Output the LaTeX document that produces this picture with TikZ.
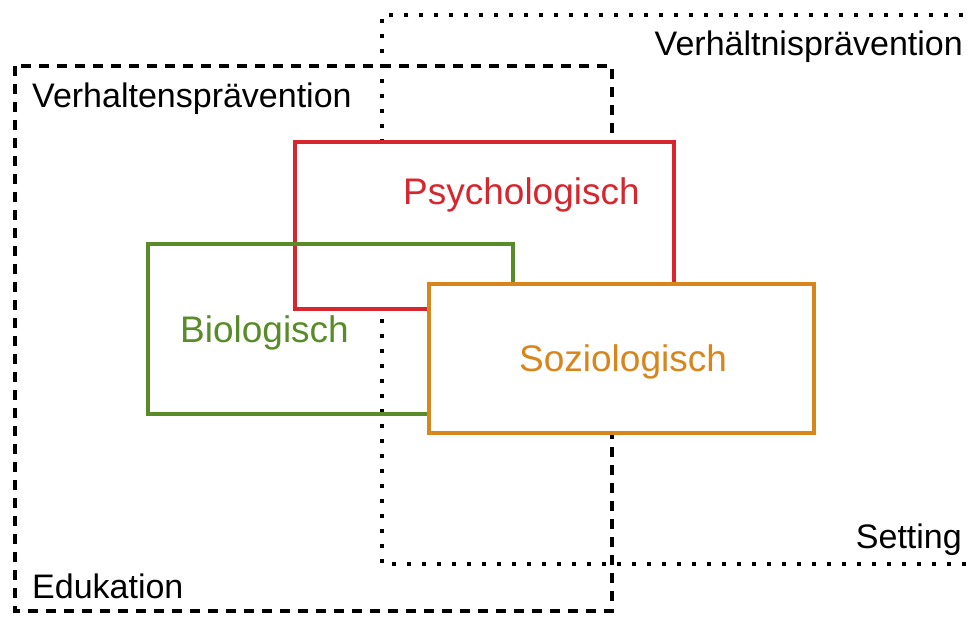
\documentclass[tikz,border=0pt]{standalone}
\usepackage{fontspec}
\setmainfont{Liberation Sans}
\definecolor{cred}{RGB}{215,38,46}
\definecolor{cgreen}{RGB}{89,140,40}
\definecolor{corange}{RGB}{216,134,27}
\begin{document}
\begin{tikzpicture}[x=1pt,y=-1pt,
  lbl/.style={inner sep=0pt,font=\fontsize{34}{40}\selectfont},
  clbl/.style={inner sep=0pt,font=\fontsize{37}{44}\selectfont},
  dashbox/.style={line width=4pt,dash pattern=on 10pt off 8pt},
  dotbox/.style={line width=4pt,dash pattern=on 4pt off 11pt},
  colbox/.style={line width=4pt}]
\useasboundingbox (0,0) rectangle (974,617);
% Verhaltenspraevention (dashed)
\draw[dashbox] (15,66) rectangle (612,611);
% Verhaeltnispraevention (dotted)
\draw[dotbox] (978,15) -- (382,15) -- (382,564) -- (978,564);
% colored boxes
\draw[colbox,cred,fill=white] (295,142) rectangle (674,309);
\draw[colbox,cgreen] (148,244) rectangle (513,414);
\draw[colbox,corange,fill=white] (429,284) rectangle (814,433);
% labels
\node[lbl,anchor=base west] (vhp) at (32,108) {Verhaltensprävention};
\node[lbl,anchor=base east] (vnp) at (963,56) {Verhältnisprävention};
\node[lbl,anchor=base east] (set) at (962,548) {Setting};
\node[lbl,anchor=base west] (edu) at (32,598) {Edukation};
\node[clbl,anchor=base west,text=cred] (psy) at (403,205) {Psychologisch};
\node[clbl,anchor=base west,text=cgreen] (bio) at (180,343) {Biologisch};
\node[clbl,anchor=base west,text=corange] (soz) at (519,371) {Soziologisch};
\end{tikzpicture}
\end{document}
